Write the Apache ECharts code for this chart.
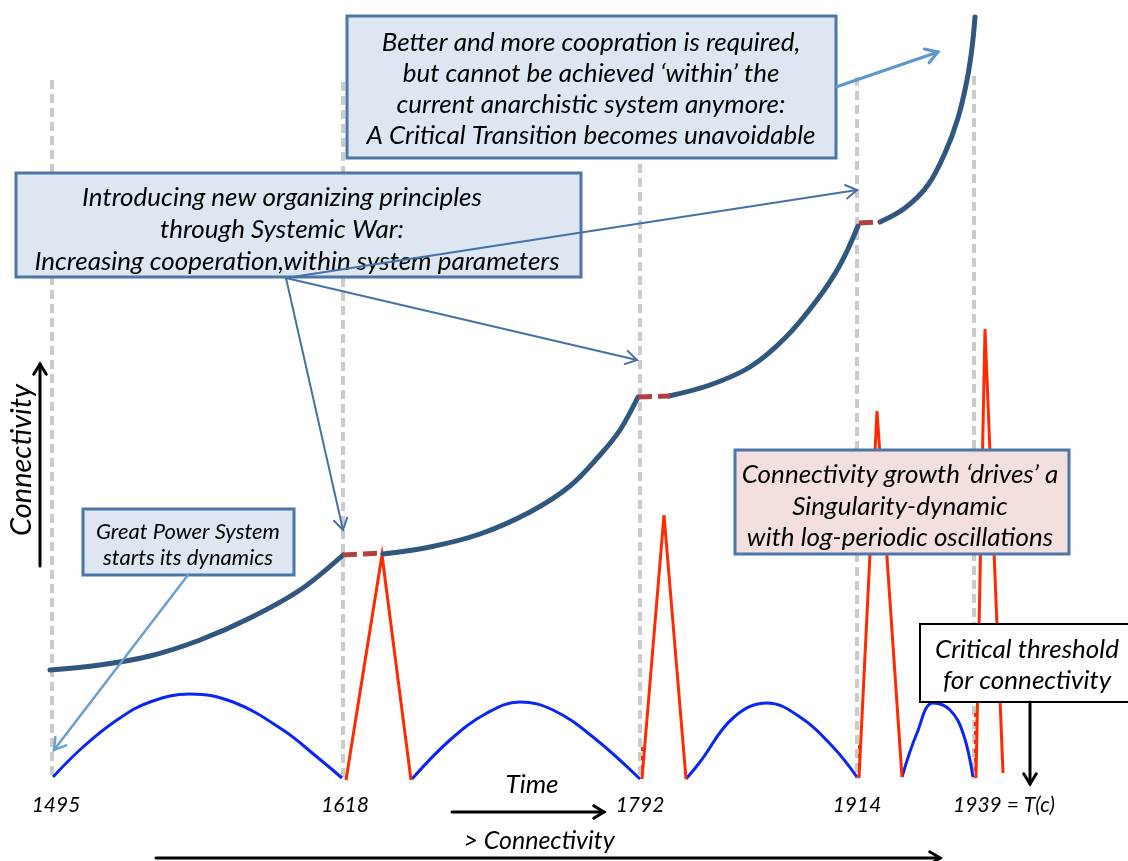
<!DOCTYPE html>
<html><head><meta charset="utf-8">
<script src="https://cdn.jsdelivr.net/npm/echarts@6/dist/echarts.min.js"></script>
<style>html,body{margin:0;padding:0;background:#fff}#c{width:1128px;height:861px}</style>
</head><body><div id="c"></div>
<script>
// ---------- data (diagram units: x = time position, y = height, axis inverted) ----------
const WAR_X = [52, 343, 640, 857, 974];
const WAR_LABELS = ['1495', '1618', '1792', '1914', '1939 = T(c)'];
const WAR_LABEL_X = [56, 345, 640, 857, 1004];
const GUIDE_TOP = [80, 82, 80, 77, 76];
const GUIDE_BOTTOM = 779;

// connectivity growth curve, one segment per systemic period
const CONN_1 = [[50,670],[100,665],[150,656],[200,640],[250,618],[300,590],[343,555]];
const CONN_2 = [[383,554],[430,547],[480,534],[530,512],[570,486],[600,455],[620,430],[638,397]];
const CONN_3 = [[669,396],[710,385],[750,367],[785,338],[817,300],[840,265],[858,226]];
const CONN_4 = [[880,222],[905,208],[928,185],[945,153],[958,118],[967,80],[972,48],[975,17]];
// war "bridges" between segments
const BRIDGES = [[[343,555],[383,553]], [[638,397],[670,396]], [[859,223],[880,222]]];

// log-periodic oscillation arcs (blue)
const ARC_1 = [[53,777],[83,747],[117,720],[150,702],[190,694],[233,702],[283,730],[317,757],[342,778]];
const ARC_2 = [[412,779],[450,740],[487,713],[520,702],[553,710],[593,737],[640,779]];
const ARC_3 = [[686,779],[700,762],[733,718],[767,703],[800,717],[833,747],[857,777]];
const ARC_4 = [[902,777],[917,733],[933,703],[950,710],[963,733],[973,777]];

// systemic war spikes (red)
const SPIKES = [
  [[346,780],[382,555],[411,780]],
  [[642,779],[664,515],[686,779]],
  [[859,778],[877,411],[902,777]],
  [[976,778],[985,329],[1003,773]]
];
const RED_TICKS = [[[642,747],[642,779]], [[859,745],[859,778]], [[975,713],[975,777]]];

// annotation texts
const BOX_A = ['Better and more coopration is required,', 'but cannot be achieved \u2018within\u2019 the', 'current anarchistic system anymore:', 'A Critical Transition becomes unavoidable'];
const BOX_B = ['Introducing new organizing principles', 'through Systemic War:', 'Increasing cooperation,within system parameters'];
const BOX_C = ['Great Power System', 'starts its dynamics'];
const BOX_D = ['Connectivity growth \u2018drives\u2019 a', 'Singularity-dynamic', 'with log-periodic oscillations'];
const BOX_E = ['Critical threshold', 'for connectivity'];
const AXIS_TEXT = { y: 'Connectivity', x: 'Time', x2: '> Connectivity' };

// ---------- chart ----------
const chart = echarts.init(document.getElementById('c'), null, { renderer: 'canvas' });
const FONT = 'Lato';
const series = [];
WAR_X.forEach((x, i) => series.push({
  type: 'line', z: 1, symbol: 'none', silent: true,
  data: [[x, GUIDE_TOP[i]], [x, GUIDE_BOTTOM]],
  lineStyle: { color: '#cbcbcb', width: 4, type: [9, 5] }
}));
[ARC_1, ARC_2, ARC_3, ARC_4].forEach(d => series.push({
  type: 'line', z: 3, symbol: 'none', smooth: 0.4, data: d,
  lineStyle: { color: '#0a26f5', width: 3 }
}));
SPIKES.forEach(d => series.push({
  type: 'line', z: 3, symbol: 'none', data: d,
  lineStyle: { color: '#ff2a00', width: 3, join: 'miter' }
}));
RED_TICKS.forEach(d => series.push({
  type: 'line', z: 2, symbol: 'none', data: d,
  lineStyle: { color: '#ff2a00', width: 2, type: [4, 5] }
}));
[CONN_1, CONN_2, CONN_3, CONN_4].forEach(d => series.push({
  type: 'line', z: 4, symbol: 'none', smooth: 0.35, data: d,
  lineStyle: { color: '#30577f', width: 5, cap: 'round' }
}));
BRIDGES.forEach(d => series.push({
  type: 'line', z: 4, symbol: 'none', data: d,
  lineStyle: { color: '#b0413e', width: 5, type: [14, 6] }
}));

chart.setOption({
  animation: false,
  grid: { left: 0, right: 0, top: 0, bottom: 0 },
  xAxis: { type: 'value', min: 0, max: 1128, show: false },
  yAxis: { type: 'value', min: 0, max: 861, inverse: true, show: false },
  series
});

const P = (x, y) => chart.convertToPixel({ gridIndex: 0 }, [x, y]);
const els = [];
function arrow(a, b, color, width, head, z) {
  const p1 = P(a[0], a[1]), p2 = P(b[0], b[1]);
  const ang = Math.atan2(p2[1] - p1[1], p2[0] - p1[0]);
  const h1 = ang + Math.PI - 0.55, h2 = ang + Math.PI + 0.55;
  els.push({ type: 'line', z: z || 8, shape: { x1: p1[0], y1: p1[1], x2: p2[0], y2: p2[1] },
    style: { stroke: color, lineWidth: width, lineCap: 'round' } });
  els.push({ type: 'polyline', z: z || 8, shape: { points: [
      [p2[0] + head * Math.cos(h1), p2[1] + head * Math.sin(h1)], p2,
      [p2[0] + head * Math.cos(h2), p2[1] + head * Math.sin(h2)]] },
    style: { stroke: color, lineWidth: width, fill: null, lineCap: 'round', lineJoin: 'miter' } });
}
function box(x1, y1, x2, y2, fill, stroke, lw) {
  const p1 = P(x1, y1), p2 = P(x2, y2);
  els.push({ type: 'rect', z: 5, shape: { x: p1[0], y: p1[1], width: p2[0] - p1[0], height: p2[1] - p1[1] },
    style: { fill, stroke, lineWidth: lw } });
}
function lines(arr, cx, ys, size) {
  arr.forEach((t, i) => {
    const x = Array.isArray(cx) ? cx[i] : cx;
    const y = Array.isArray(ys) ? ys[i] : ys;
    const p = P(x, y);
    els.push({ type: 'text', z: 6, x: p[0], y: p[1],
      style: { text: t, fill: '#000', font: 'italic ' + size + 'px ' + FONT, align: 'center', verticalAlign: 'middle' } });
  });
}

box(347, 16, 836, 158, '#dde6f1', '#4a76a8', 3);
lines(BOX_A, 591, [43, 74, 105, 136], 26);
box(16, 173, 581, 277, '#dde6f1', '#4a76a8', 3);
lines(BOX_B, [282, 282, 297], [198, 230, 262], 26);
box(83, 509, 294, 575, '#dde6f1', '#4a76a8', 3);
lines(BOX_C, 188, [532, 558], 22);
box(735, 450, 1069, 554, '#f2dfde', '#4a76a8', 3);
lines(BOX_D, 900, [475, 507, 538], 26);
box(920, 624, 1140, 702, '#ffffff', '#000000', 2);
lines(BOX_E, 1027, [650, 681], 26);

// year labels under the war guides
lines(WAR_LABELS, WAR_LABEL_X, 805, 21);

// axis captions
lines([AXIS_TEXT.x], 532, [785], 26);
lines([AXIS_TEXT.x2], 539, [841], 25);
{
  const p = P(22, 460);
  els.push({ type: 'text', z: 6, x: p[0], y: p[1], rotation: Math.PI / 2,
    style: { text: AXIS_TEXT.y, fill: '#000', font: 'italic 29px ' + FONT, align: 'center', verticalAlign: 'middle' } });
}

// arrows
arrow([836, 87], [938, 52], '#5d96cf', 3, 14);
arrow([286, 278], [343, 530], '#4472a6', 2, 13);
arrow([286, 278], [637, 360], '#4472a6', 2, 13);
arrow([286, 278], [857, 190], '#4472a6', 2, 13);
arrow([188, 575], [54, 750], '#6a9fd2', 2.5, 13);
arrow([452, 812], [604, 812], '#000', 3, 12);
arrow([156, 858], [940, 858], '#000', 3, 12);
arrow([40, 566], [40, 364], '#000', 3, 12);
arrow([1030, 702], [1030, 784], '#000', 3, 12);

chart.setOption({ graphic: { elements: els } });
</script></body></html>
